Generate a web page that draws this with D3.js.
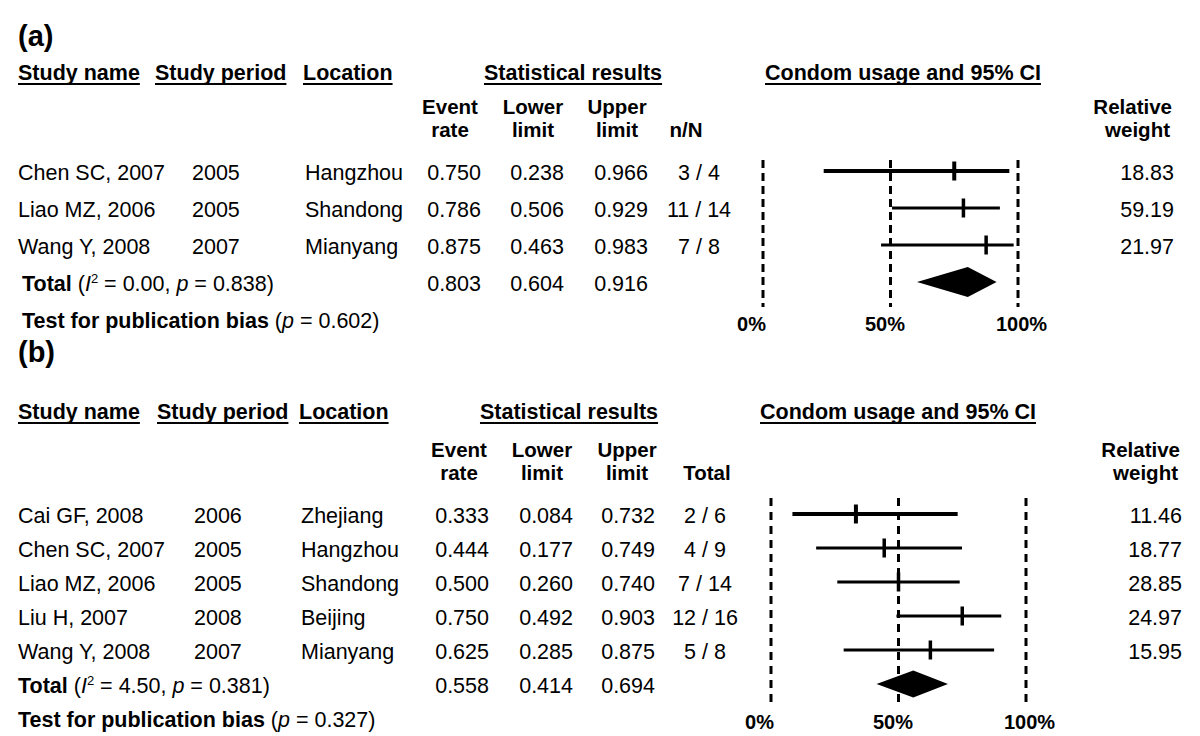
<!DOCTYPE html>
<html>
<head>
<meta charset="utf-8">
<script src="https://cdn.jsdelivr.net/npm/d3@7"></script>
<style>
  html, body { margin: 0; padding: 0; background: #fff; }
  svg { display: block; }
  text { font-family: "Liberation Sans", Arial, sans-serif; fill: #000; }
</style>
</head>
<body>
<svg id="chart" width="1200" height="736"></svg>
<script>
// ---------------- DATA ----------------
// Panel (a)
const studiesA   = ["Chen SC, 2007", "Liao MZ, 2006", "Wang Y, 2008"];
const periodsA   = ["2005", "2005", "2007"];
const locationsA = ["Hangzhou", "Shandong", "Mianyang"];
const rateA      = [0.750, 0.786, 0.875];
const lowerA     = [0.238, 0.506, 0.463];
const upperA     = [0.966, 0.929, 0.983];
const countsA    = ["3 / 4", "11 / 14", "7 / 8"];
const weightsA   = [18.83, 59.19, 21.97];
const totalA     = [0.803, 0.604, 0.916];   // rate, lower, upper
const totalStatsA = ["0.00", "0.838"];      // I², p
const biasPA     = "0.602";

// Panel (b)
const studiesB   = ["Cai GF, 2008", "Chen SC, 2007", "Liao MZ, 2006", "Liu H, 2007", "Wang Y, 2008"];
const periodsB   = ["2006", "2005", "2005", "2008", "2007"];
const locationsB = ["Zhejiang", "Hangzhou", "Shandong", "Beijing", "Mianyang"];
const rateB      = [0.333, 0.444, 0.500, 0.750, 0.625];
const lowerB     = [0.084, 0.177, 0.260, 0.492, 0.285];
const upperB     = [0.732, 0.749, 0.740, 0.903, 0.875];
const countsB    = ["2 / 6", "4 / 9", "7 / 14", "12 / 16", "5 / 8"];
const weightsB   = [11.46, 18.77, 28.85, 24.97, 15.95];
const totalB     = [0.558, 0.414, 0.694];
const totalStatsB = ["4.50", "0.381"];
const biasPB     = "0.327";

// Axis
const tickValues = [0, 0.5, 1];
const tickLabels = ["0%", "50%", "100%"];

// ---------------- LAYOUT ----------------
const layoutA = {
  label: "(a)", labelY: 46, headerY: 80, sub1: 114, sub2: 137,
  rowY0: 180, rowStep: 37,
  colName: 18, colPeriod: 192, colLoc: 305,
  colRate: 481, colLower: 564, colUpper: 648, colN: 699,
  hdrRate: 450, hdrLower: 533, hdrUpper: 617, hdrN: 686, hdrNText: "n/N",
  statHdr: 573, ciHdr: 903, xRange: [763, 1018],
  weightEnd: 1174, relHdr: 1131,
  dashTop: 160, dashBot: 307, axisY: 331, totalX: 22, diamondH: 15,
  dash: "8,5", tickOffsets: [-12, -6, 3]
};
const layoutB = {
  label: "(b)", labelY: 362, headerY: 419, sub1: 457, sub2: 480,
  rowY0: 523, rowStep: 34,
  colName: 18, colPeriod: 194, colLoc: 301,
  colRate: 489, colLower: 573, colUpper: 655, colN: 705,
  hdrRate: 459, hdrLower: 542, hdrUpper: 627, hdrN: 707, hdrNText: "Total",
  statHdr: 569, ciHdr: 898, xRange: [771, 1026],
  weightEnd: 1182, relHdr: 1140,
  dashTop: 498, dashBot: 703, axisY: 729, totalX: 18, diamondH: 13.5,
  dash: "8,6", tickOffsets: [-12, -6, 3]
};

const FS = 21.5;
const svg = d3.select("#chart");

function underline(g, textSel) {
  const b = textSel.node().getBBox();
  const base = +textSel.attr("y");
  g.append("line")
    .attr("x1", b.x).attr("x2", b.x + b.width)
    .attr("y1", base + 4).attr("y2", base + 4)
    .attr("stroke", "#000").attr("stroke-width", 2);
}

function drawPanel(L, d) {
  const g = svg.append("g");
  const n = d.studies.length;
  const rowY = i => L.rowY0 + i * L.rowStep;
  const x = d3.scaleLinear().domain([0, 1]).range(L.xRange);

  // panel label
  g.append("text").attr("x", L.colName).attr("y", L.labelY)
    .attr("font-size", 29).attr("font-weight", "bold").text(L.label);

  // top headers (underlined)
  const hdrs = [
    { t: "Study name", x: L.colName, a: "start" },
    { t: "Study period", x: L.colPeriod - 37, a: "start" },
    { t: "Location", x: L.colLoc - 2, a: "start" },
    { t: "Statistical results", x: L.statHdr, a: "middle" },
    { t: "Condom usage and 95% CI", x: L.ciHdr, a: "middle" }
  ];
  hdrs.forEach(h => {
    const t = g.append("text").attr("x", h.x).attr("y", L.headerY)
      .attr("text-anchor", h.a).attr("font-size", FS).attr("font-weight", "bold")
      .text(h.t);
    underline(g, t);
  });

  // sub headers
  const subs = [
    [L.hdrRate, "Event", "rate"], [L.hdrLower, "Lower", "limit"],
    [L.hdrUpper, "Upper", "limit"], [L.hdrN, null, L.hdrNText]
  ];
  subs.forEach(s => {
    if (s[1]) g.append("text").attr("x", s[0]).attr("y", L.sub1).attr("text-anchor", "middle")
      .attr("font-size", 20.5).attr("font-weight", "bold").text(s[1]);
    g.append("text").attr("x", s[0]).attr("y", L.sub2).attr("text-anchor", "middle")
      .attr("font-size", 20.5).attr("font-weight", "bold").text(s[2]);
  });
  g.append("text").attr("x", L.weightEnd - 2).attr("y", L.sub1).attr("text-anchor", "end")
    .attr("font-size", 20.5).attr("font-weight", "bold").text("Relative");
  g.append("text").attr("x", L.weightEnd - 4).attr("y", L.sub2).attr("text-anchor", "end")
    .attr("font-size", 20.5).attr("font-weight", "bold").text("weight");

  // study rows
  const cell = (vals, xpos, anchor, fmt) => {
    g.selectAll(null).data(vals).join("text")
      .attr("x", xpos).attr("y", (v, i) => rowY(i))
      .attr("text-anchor", anchor).attr("font-size", FS)
      .attr("fill", "#111")
      .text(fmt || (v => v));
  };
  const f3 = d3.format(".3f"), f2 = d3.format(".2f");
  cell(d.studies, L.colName, "start");
  cell(d.periods, L.colPeriod, "start");
  cell(d.locations, L.colLoc, "start");
  cell(d.rate, L.colRate, "end", f3);
  cell(d.lower, L.colLower, "end", f3);
  cell(d.upper, L.colUpper, "end", f3);
  cell(d.counts, L.colN, "middle");
  cell(d.weights, L.weightEnd, "end", f2);

  // total row
  const ty = rowY(n);
  const tt = g.append("text").attr("x", L.totalX).attr("y", ty).attr("font-size", FS);
  tt.append("tspan").attr("font-weight", "bold").text("Total");
  tt.append("tspan").text(" (");
  tt.append("tspan").attr("font-style", "italic").text("I");
  tt.append("tspan").attr("font-size", 13).attr("dy", -8).text("2");
  tt.append("tspan").attr("dy", 8).text(" = " + d.totalStats[0] + ", ");
  tt.append("tspan").attr("font-style", "italic").text("p");
  tt.append("tspan").text(" = " + d.totalStats[1] + ")");
  [[d.total[0], L.colRate], [d.total[1], L.colLower], [d.total[2], L.colUpper]].forEach(p => {
    g.append("text").attr("x", p[1]).attr("y", ty).attr("text-anchor", "end")
      .attr("font-size", FS).attr("fill", "#111").text(f3(p[0]));
  });

  // publication bias row
  const by = rowY(n + 1);
  const bt = g.append("text").attr("x", L.totalX).attr("y", by).attr("font-size", FS);
  bt.append("tspan").attr("font-weight", "bold").text("Test for publication bias");
  bt.append("tspan").text(" (");
  bt.append("tspan").attr("font-style", "italic").text("p");
  bt.append("tspan").text(" = " + d.biasP + ")");

  // dashed reference lines
  g.selectAll(null).data(tickValues).join("line")
    .attr("x1", v => x(v)).attr("x2", v => x(v))
    .attr("y1", L.dashTop).attr("y2", L.dashBot)
    .attr("stroke", "#000").attr("stroke-width", 3)
    .attr("stroke-dasharray", L.dash);

  // CI lines
  const lineW = i => (i === 0 ? 4 : 3);
  g.selectAll(null).data(d3.range(n)).join("line")
    .attr("x1", i => x(d.lower[i])).attr("x2", i => x(d.upper[i]))
    .attr("y1", i => rowY(i) - 9).attr("y2", i => rowY(i) - 9)
    .attr("stroke", "#000").attr("stroke-width", lineW);
  // point estimate ticks
  g.selectAll(null).data(d3.range(n)).join("line")
    .attr("x1", i => x(d.rate[i])).attr("x2", i => x(d.rate[i]))
    .attr("y1", i => rowY(i) - 18.5).attr("y2", i => rowY(i) + 0.5)
    .attr("stroke", "#000").attr("stroke-width", i => (i === 0 ? 4 : 3.5));

  // diamond
  const cy = ty - 9, h = L.diamondH;
  const pts = [[x(d.total[1]), cy], [x(d.total[0]), cy - h], [x(d.total[2]), cy], [x(d.total[0]), cy + h]];
  g.append("path").attr("d", d3.line()(pts) + "Z").attr("fill", "#000");

  // axis labels
  const axis = d3.axisBottom(x).tickValues(tickValues)
    .tickFormat((v, i) => tickLabels[i]).tickSize(0).tickPadding(0);
  const ag = g.append("g").attr("transform", `translate(0,${L.axisY})`).call(axis);
  ag.select(".domain").remove();
  ag.selectAll("text")
    .attr("y", 0).attr("dy", 0)
    .attr("dx", (v, i) => L.tickOffsets[i])
    .attr("font-size", 20).attr("font-weight", "bold")
    .attr("font-family", "Liberation Sans, Arial, sans-serif").attr("fill", "#000");
}

drawPanel(layoutA, {
  studies: studiesA, periods: periodsA, locations: locationsA,
  rate: rateA, lower: lowerA, upper: upperA, counts: countsA, weights: weightsA,
  total: totalA, totalStats: totalStatsA, biasP: biasPA
});
drawPanel(layoutB, {
  studies: studiesB, periods: periodsB, locations: locationsB,
  rate: rateB, lower: lowerB, upper: upperB, counts: countsB, weights: weightsB,
  total: totalB, totalStats: totalStatsB, biasP: biasPB
});
</script>
</body>
</html>
